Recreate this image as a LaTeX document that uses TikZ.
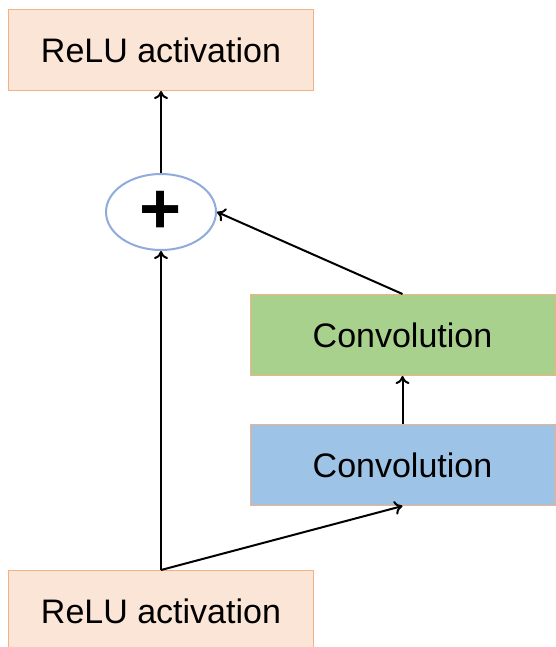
\documentclass[tikz,border=0pt]{standalone}
\usepackage{fontspec}
\setmainfont{Liberation Sans}
\usepackage{tikz}
\usetikzlibrary{arrows.meta,positioning,shapes.geometric}
\usepackage{xcolor}

\definecolor{reluFill}{HTML}{FBE5D6}
\definecolor{boxLine}{HTML}{F4B183}
\definecolor{convTop}{HTML}{A9D18E}
\definecolor{convLow}{HTML}{9DC3E6}
\definecolor{addLine}{HTML}{8FAADC}

\tikzset{
  layer/.style={draw=boxLine,line width=1pt,minimum width=305pt,minimum height=81pt,
                inner sep=0pt,font=\fontsize{34}{40}\selectfont},
  relubox/.style={layer,fill=reluFill},
  addnode/.style={ellipse,draw=addLine,line width=2pt,fill=white,
                  minimum width=110pt,minimum height=76pt,inner sep=0pt,
                  font=\fontsize{72}{72}\selectfont\bfseries},
  every edge/.append style={line width=2pt}
}

\begin{document}
\begin{tikzpicture}[x=1pt,y=-1pt,node distance=2cm,on grid,>={To[length=8pt,width=14pt]}]
   \useasboundingbox (0,0) rectangle (555,647);
   \node[relubox] (relu1) at (161,611) {ReLU activation};
   \node[addnode] (add) [above=399pt of relu1] {+};
   \node[relubox] (relu2) [above=162pt of add] {ReLU activation};
   \node[layer,fill=convLow] (conv1) [above right=146pt and 241.5pt of relu1] {Convolution};
   \node[layer,fill=convTop] (conv2) [above=130pt of conv1] {Convolution};

   \path[->]
    (relu1.north) edge (add)
                  edge (conv1.south)
    (conv1) edge (conv2)
    (conv2.north) edge (add.east)
    (add) edge (relu2);
\end{tikzpicture}
\end{document}
